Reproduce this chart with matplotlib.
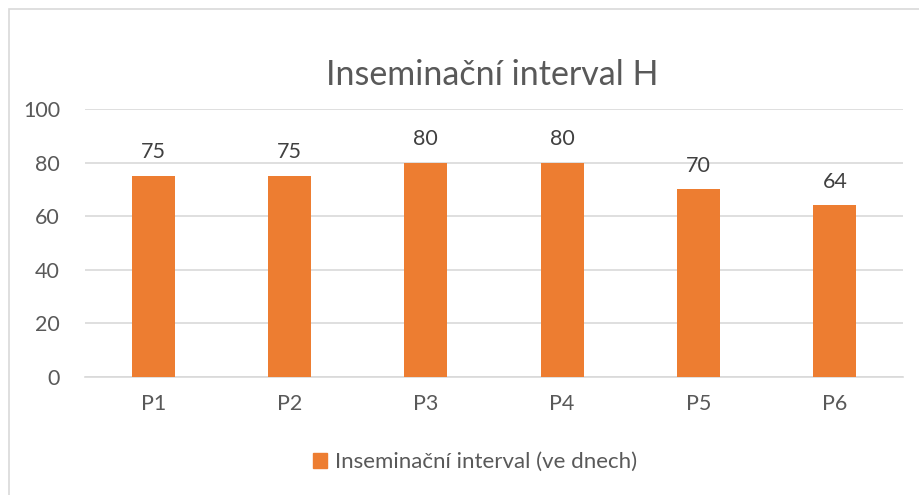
import matplotlib
matplotlib.use("Agg")
import matplotlib.pyplot as plt
from matplotlib.patches import Rectangle, Patch

categories = ["P1", "P2", "P3", "P4", "P5", "P6"]
values = [75, 75, 80, 80, 70, 64]
series_name = "Inseminační interval (ve dnech)"
title = "Inseminační interval H"
yticks = [0, 20, 40, 60, 80, 100]

plt.rcParams['font.family'] = ['Lato', 'DejaVu Sans']
W, H = 919, 495
fig = plt.figure(figsize=(W / 100, H / 100), dpi=100)
fig.patch.set_facecolor("white")

# chart border
fig.patches.append(Rectangle((9 / W, -0.1), 1.1, (H - 9) / H + 0.1, transform=fig.transFigure,
                             fill=False, edgecolor="#D9D9D9", linewidth=1.2))

ax = fig.add_axes([85 / W, (H - 377) / H, (903 - 85) / W, (377 - 109) / H])
x = list(range(len(categories)))
bars = ax.bar(x, values, width=0.315, color="#ED7D31", zorder=3)
ax.set_xlim(-0.5, len(categories) - 0.5)
ax.set_ylim(0, 100)
ax.set_yticks(yticks)
ax.set_xticks(x)
ax.set_xticklabels(categories)
ax.yaxis.grid(True, color="#D9D9D9", linewidth=1.2, zorder=0)
for s in ["top", "right", "left"]:
    ax.spines[s].set_visible(False)
ax.spines["bottom"].set_color("#D9D9D9")
ax.spines["bottom"].set_linewidth(1.2)
ax.tick_params(axis="both", length=0, colors="#595959", labelsize=15.5)
ax.tick_params(axis="y", pad=18)
ax.tick_params(axis="x", pad=12)

for xi, v in zip(x, values):
    ax.annotate(str(v), (xi, v), xytext=(0, 10), textcoords="offset points",
                ha="center", va="bottom", fontsize=15.5, color="#404040")

fig.text(492 / W, 1 - 75 / H, title, ha="center", va="center", fontsize=24.5, color="#595959")

fig.legend(handles=[Patch(color="#ED7D31", label=series_name)], loc="center",
           bbox_to_anchor=(475 / W, 1 - 462 / H), frameon=False, fontsize=16,
           handlelength=0.65, handleheight=0.65, handletextpad=0.35, labelcolor="#595959")

fig.savefig("out.png", dpi=100, facecolor="white")
